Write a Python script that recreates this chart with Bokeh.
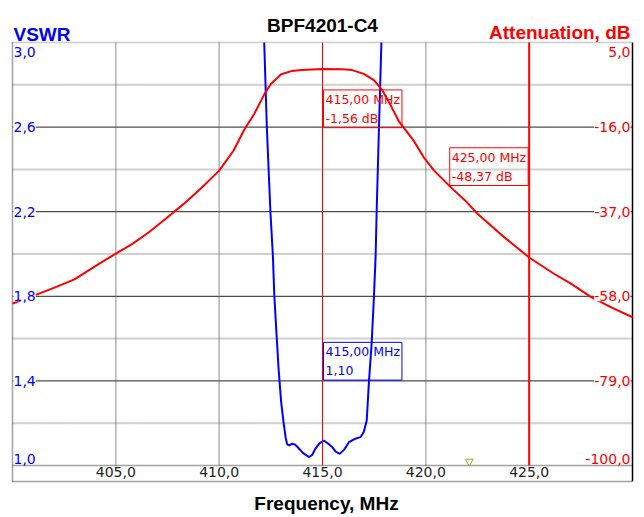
from bokeh.plotting import figure
from bokeh.models import Range1d, Label
from bokeh.core.properties import value
from bokeh.embed import file_html
from bokeh.resources import INLINE

# ---------------- data ----------------
att_freq = [400.0, 401.0, 402.0, 403.0, 404.2, 405.0, 405.8, 406.6, 407.5, 408.3,
            409.1, 410.0, 410.7, 411.2, 411.7, 412.2, 412.5, 413.0, 413.5, 414.0,
            415.0, 416.0, 416.4, 417.0, 417.5, 417.9, 418.3, 418.7, 419.4, 419.9,
            420.4, 421.2, 421.9, 422.5, 423.6, 425.0, 426.2, 427.0, 428.0, 429.0, 430.0]
att_db = [-59.8, -57.9, -55.9, -53.8, -49.9, -47.4, -45.0, -42.1, -38.4, -35.0,
          -31.3, -26.8, -21.8, -16.8, -12.7, -7.7, -5.3, -2.9, -2.1, -1.8,
          -1.56, -1.65, -1.8, -2.8, -4.4, -6.9, -10.6, -14.6, -19.3, -23.5,
          -26.8, -30.9, -34.2, -37.5, -42.5, -48.37, -52.4, -54.8, -58.2, -60.8, -63.2]

vswr_freq = [412.18, 412.31, 412.48, 412.60, 412.67, 412.77, 412.88, 413.00, 413.12, 413.22,
             413.29, 413.40, 413.53, 413.65, 413.77, 414.05, 414.34, 414.50, 414.66, 414.85,
             415.06, 415.25, 415.47, 415.65, 415.83, 416.05, 416.28, 416.55, 416.84, 417.00,
             417.14, 417.25, 417.38, 417.49, 417.57, 417.62, 417.73, 417.85]
vswr_val = [3.00, 2.59, 2.20, 1.99, 1.80, 1.63, 1.45, 1.30, 1.20, 1.13,
            1.10, 1.095, 1.103, 1.10, 1.09, 1.06, 1.04, 1.05, 1.08, 1.105,
            1.118, 1.105, 1.087, 1.065, 1.055, 1.075, 1.11, 1.125, 1.134, 1.16,
            1.213, 1.40, 1.58, 1.80, 1.99, 2.20, 2.59, 3.00]

x_ticks = [405.0, 410.0, 415.0, 420.0, 425.0]
x_tick_labels = ["405,0", "410,0", "415,0", "420,0", "425,0"]
vswr_ticks = [3.0, 2.6, 2.2, 1.8, 1.4, 1.0]
vswr_tick_labels = ["3,0", "2,6", "2,2", "1,8", "1,4", "1,0"]
vswr_minor = [2.8, 2.4, 2.0, 1.6, 1.2]
db_ticks = [5.0, -16.0, -37.0, -58.0, -79.0, -100.0]
db_tick_labels = ["5,0", "-16,0", "-37,0", "-58,0", "-79,0", "-100,0"]

att_marker_freq = [415.0, 425.0]
att_marker_db = [-1.56, -48.37]
att_marker_text = ["415,00 MHz\n-1,56 dB", "425,00 MHz\n-48,37 dB"]
vswr_marker_freq = 415.0
vswr_marker_val = 1.10
vswr_marker_text = "415,00 MHz\n1,10"
min_marker_freq = [422.1]

title = "BPF4201-C4"
left_title = "VSWR"
right_title = "Attenuation, dB"
x_title = "Frequency, MHz"

# ---------------- layout (pixel geometry of the plot box) ----------------
BLUE = "#0000ff"
RED = "#ff0000"
W, H = 644, 517
PL, PR, PT, PB = 12, 632, 42, 465     # plot box in canvas pixels
STRIP = 16                             # x tick label strip below the box
x0, x1 = 400.0, 430.0
v_lo, v_hi = vswr_ticks[-1], vswr_ticks[0]
d_lo, d_hi = db_ticks[-1], db_ticks[0]
xpp = (x1 - x0) / (PR - PL)
vpp = (v_hi - v_lo) / (PB - PT)
dpp = (d_hi - d_lo) / (PB - PT)

p = figure(width=W, height=H,
           x_range=Range1d(x0 - PL * xpp, x1 + (W - PR) * xpp),
           y_range=Range1d(v_lo - (H - PB) * vpp, v_hi + PT * vpp),
           output_backend="svg", toolbar_location=None,
           x_axis_location=None, y_axis_location=None,
           min_border_left=0, min_border_right=0, min_border_top=0, min_border_bottom=0)
p.extra_y_ranges = {"db": Range1d(d_lo - (H - PB) * dpp, d_hi + PT * dpp)}
p.grid.visible = False
p.outline_line_color = None
p.background_fill_color = "white"
p.border_fill_color = "white"

v_strip = v_lo - STRIP * vpp

# minor horizontal grid (gray dotted)
p.segment(x0=[x0] * len(vswr_minor), x1=[x1] * len(vswr_minor), y0=vswr_minor, y1=vswr_minor,
          line_color="#a0a0a0", line_width=2, line_dash="1 1")
# major horizontal grid (dark)
p.segment(x0=[x0] * 4, x1=[x1] * 4, y0=vswr_ticks[1:-1], y1=vswr_ticks[1:-1],
          line_color="#222222", line_width=1)
# vertical grid
grid_x = [t for t in x_ticks if t not in att_marker_freq]
p.segment(x0=grid_x, x1=grid_x, y0=[v_lo] * len(grid_x), y1=[v_hi] * len(grid_x),
          line_color="#666666", line_width=1.5, line_dash="1 1")
# box borders
p.segment(x0=[x0], x1=[x1], y0=[v_hi], y1=[v_hi], line_color="#999999", line_width=1.5, line_dash="1 1")
p.segment(x0=[x0, x0], x1=[x1, x1], y0=[v_lo, v_strip], y1=[v_lo, v_strip],
          line_color="#444444", line_width=1.5, line_dash="1 1")
p.segment(x0=[x0], x1=[x0], y0=[v_strip], y1=[v_hi], line_color="#444444", line_width=1.5, line_dash="1 1")
p.segment(x0=[x1], x1=[x1], y0=[v_strip], y1=[v_hi], line_color="black", line_width=1.5)

# curves
p.line(vswr_freq, vswr_val, line_color=BLUE, line_width=2)
p.line(att_freq, att_db, line_color=RED, line_width=2, y_range_name="db")

# marker lines
p.segment(x0=[att_marker_freq[0]], x1=[att_marker_freq[0]], y0=[v_lo], y1=[v_hi], line_color=RED, line_width=1)
p.segment(x0=[att_marker_freq[1]], x1=[att_marker_freq[1]], y0=[v_lo], y1=[v_hi], line_color=RED, line_width=2)

# min marker triangle
p.scatter(min_marker_freq, [v_lo + 4 * vpp], marker="inverted_triangle", size=8,
          line_color="#a0a020", fill_color=None, line_width=1)

# tick labels
tick_font = value("DejaVu Sans")
baselines = ["top"] + ["middle"] * (len(vswr_ticks) - 2) + ["bottom"]
yoff = [4] + [0] * (len(vswr_ticks) - 2) + [-2]
for v, lab, b, o in zip(vswr_ticks, vswr_tick_labels, baselines, yoff):
    p.text(x=[x0], y=[v], text=[lab], text_font=tick_font, text_font_size="14px",
           text_color=BLUE, text_align="left", text_baseline=b, x_offset=1, y_offset=o,
           background_fill_color="white")
for d, lab, b, o in zip(db_ticks, db_tick_labels, baselines, yoff):
    p.text(x=[x1], y=[d], text=[lab], text_font=tick_font, text_font_size="14px",
           text_color=RED, text_align="right", text_baseline=b, x_offset=-2, y_offset=o,
           background_fill_color="white", y_range_name="db")
p.text(x=x_ticks, y=[v_lo] * len(x_ticks), text=x_tick_labels, text_font=tick_font,
       text_font_size="14px", text_color="#222222", text_align="center", text_baseline="top",
       y_offset=1)

# marker readouts
mk_font = "DejaVu Sans"
p.add_layout(Label(x=att_marker_freq[0], y=att_marker_db[0], y_range_name="db", text=att_marker_text[0],
                   x_offset=1, y_offset=-21, anchor="top_left", text_align="left",
                   text_font=mk_font, text_font_size="12.5px", text_color=RED, padding=2,
                   border_line_color=RED, border_line_width=1, text_line_height=1.25))
p.add_layout(Label(x=att_marker_freq[1], y=att_marker_db[1], y_range_name="db", text=att_marker_text[1],
                   x_offset=-1, y_offset=72, anchor="bottom_right", text_align="left",
                   text_font=mk_font, text_font_size="12.5px", text_color=RED, padding=2,
                   border_line_color=RED, border_line_width=1, text_line_height=1.25))
p.add_layout(Label(x=vswr_marker_freq, y=vswr_marker_val, text=vswr_marker_text,
                   x_offset=1, y_offset=102, anchor="top_left", text_align="left",
                   text_font=mk_font, text_font_size="12.5px", text_color=BLUE, padding=2,
                   border_line_color=BLUE, border_line_width=1, text_line_height=1.25))

# titles
title_font = "Liberation Sans"
p.add_layout(Label(x=(x0 + x1) / 2, y=v_hi + (PT - 25) * vpp, text=title, text_align="center",
                   text_baseline="alphabetic", text_font=title_font, text_font_size="19px",
                   text_font_style="bold", text_color="black"))
p.add_layout(Label(x=x0 + 1 * xpp, y=v_hi + (PT - 34) * vpp, text=left_title, text_align="left",
                   text_baseline="alphabetic", text_font=title_font, text_font_size="19px",
                   text_font_style="bold", text_color=BLUE))
p.add_layout(Label(x=x1 - 2 * xpp, y=v_hi + (PT - 32) * vpp, text=right_title, text_align="right",
                   text_baseline="alphabetic", text_font=title_font, text_font_size="19px",
                   text_font_style="bold", text_color=RED))
p.add_layout(Label(x=(x0 + x1) / 2 + 4 * xpp, y=v_lo - (503 - PB) * vpp, text=x_title,
                   text_align="center", text_baseline="alphabetic", text_font=title_font,
                   text_font_size="19px", text_font_style="bold", text_color="black"))

open("out.html", "w").write(file_html(p, INLINE))
